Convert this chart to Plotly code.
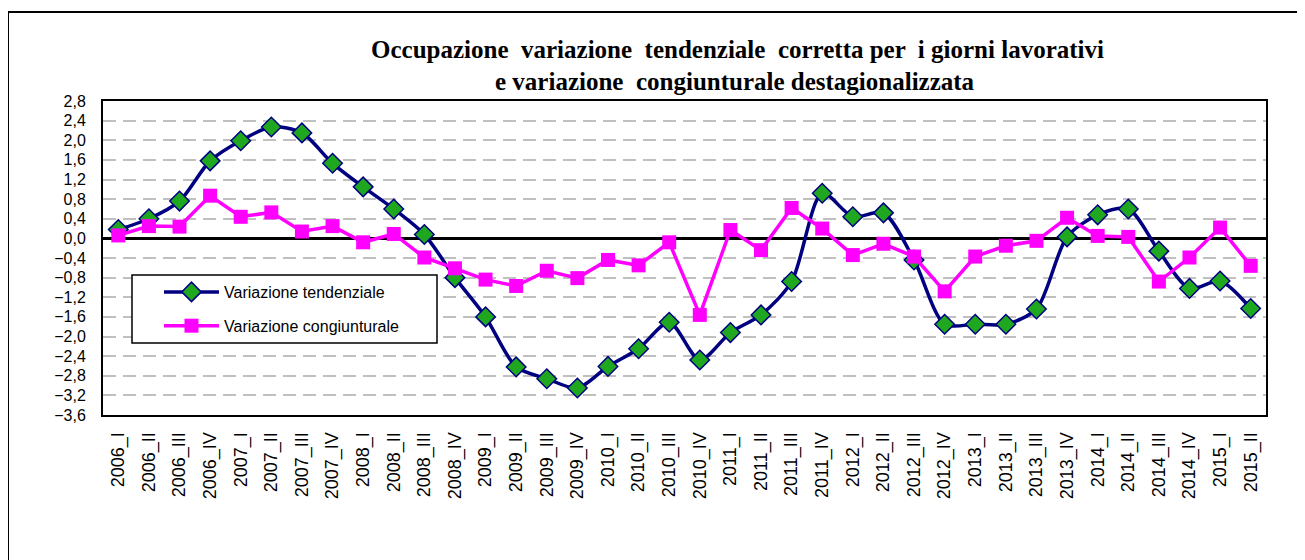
import plotly.graph_objects as go

# quarters 2006_I .. 2015_II
quarters = [
    "2006_I", "2006_II", "2006_III", "2006_IV",
    "2007_I", "2007_II", "2007_III", "2007_IV",
    "2008_I", "2008_II", "2008_III", "2008_IV",
    "2009_I", "2009_II", "2009_III", "2009_IV",
    "2010_I", "2010_II", "2010_III", "2010_IV",
    "2011_I", "2011_II", "2011_III", "2011_IV",
    "2012_I", "2012_II", "2012_III", "2012_IV",
    "2013_I", "2013_II", "2013_III", "2013_IV",
    "2014_I", "2014_II", "2014_III", "2014_IV",
    "2015_I", "2015_II",
]

tendenziale = [
    0.18, 0.40, 0.76, 1.58, 1.99, 2.27, 2.15, 1.53,
    1.05, 0.60, 0.08, -0.80, -1.60, -2.62, -2.86, -3.05,
    -2.61, -2.25, -1.71, -2.48, -1.92, -1.56, -0.88, 0.92,
    0.44, 0.52, -0.44, -1.75, -1.75, -1.75, -1.44, 0.03,
    0.48, 0.60, -0.26, -1.02, -0.87, -1.43,
]

congiunturale = [
    0.06, 0.25, 0.24, 0.87, 0.44, 0.53, 0.14, 0.25,
    -0.08, 0.09, -0.39, -0.61, -0.84, -0.97, -0.66, -0.81,
    -0.44, -0.55, -0.08, -1.56, 0.17, -0.24, 0.62, 0.20,
    -0.34, -0.11, -0.37, -1.08, -0.37, -0.15, -0.05, 0.42,
    0.05, 0.03, -0.88, -0.39, 0.22, -0.56,
]

y_ticks = [round(-3.6 + 0.4 * i, 1) for i in range(17)]

title_line1 = "<b>Occupazione  variazione  tendenziale  corretta per  i giorni lavorativi</b>"
title_line2 = "<b>e variazione  congiunturale destagionalizzata</b>"

fig = go.Figure()

fig.add_trace(go.Scatter(
    x=quarters, y=tendenziale, name="Variazione tendenziale",
    mode="lines+markers", legendgroup="a",
    line=dict(color="#000080", width=3.5, shape="spline", smoothing=0.8),
    marker=dict(symbol="diamond", size=15, color="#1fa81f",
                line=dict(color="#000080", width=1.5)),
))

fig.add_trace(go.Scatter(
    x=quarters, y=congiunturale, name="Variazione congiunturale",
    mode="lines+markers", legendgroup="b",
    line=dict(color="#ff00ff", width=3.5),
    marker=dict(symbol="square", size=14, color="#ff00ff"),
))

# page body has an 8px margin, so screen positions are offset by 8
OFF = 8
W, H = 1305, 560
L, T = 103 - OFF, 101 - OFF
R = W - (1266 - OFF)
B = H - (415 - OFF)
pw, ph = W - L - R, H - T - B


def px_x(x):
    return (x - OFF - L) / pw


def px_y(y):
    return (H - B - (y - OFF)) / ph


fig.add_annotation(text=title_line1, x=px_x(737), y=px_y(50), xref="paper", yref="paper",
                   showarrow=False, xanchor="center", yanchor="middle",
                   font=dict(family="Liberation Serif", size=25, color="black"))
fig.add_annotation(text=title_line2, x=px_x(735), y=px_y(82), xref="paper", yref="paper",
                   showarrow=False, xanchor="center", yanchor="middle",
                   font=dict(family="Liberation Serif", size=25, color="black"))

# outer frame of the chart, running off the right and bottom edges
fig.add_shape(type="rect", xref="paper", yref="paper",
              x0=px_x(8), y0=px_y(12), x1=px_x(1330), y1=px_y(590),
              line=dict(color="black", width=2), layer="below")

# legend box (wider than plotly's own legend frame)
fig.add_shape(type="rect", xref="paper", yref="paper",
              x0=px_x(132), y0=px_y(275), x1=px_x(437), y1=px_y(343),
              line=dict(color="black", width=1.5), fillcolor="white", layer="above")

fig.update_layout(
    width=W, height=H,
    margin=dict(l=L, r=R, t=T, b=B),
    paper_bgcolor="white", plot_bgcolor="white",
    separators=",.",
    font=dict(family="Arial, Liberation Sans", size=16, color="black"),
    legend=dict(
        x=px_x(159), y=px_y(275), xanchor="left", yanchor="top",
        bgcolor="rgba(0,0,0,0)", borderwidth=0,
        font=dict(family="Arial, Liberation Sans", size=16),
        traceorder="grouped", tracegroupgap=10,
        itemwidth=55,
    ),
)

fig.update_xaxes(
    type="category", range=[-0.5, len(quarters) - 0.5],
    tickangle=-90, showgrid=False,
    showline=True, linecolor="black", linewidth=2, mirror=True,
    ticks="", ticklabelstandoff=8,
    tickfont=dict(family="Arial, Liberation Sans", size=18),
)

fig.update_yaxes(
    range=[-3.6, 2.8], tickvals=y_ticks, tickformat=".1f",
    showgrid=True, gridcolor="#c0c0c0", gridwidth=2, griddash="13px,7px",
    zeroline=True, zerolinecolor="black", zerolinewidth=2.5,
    showline=True, linecolor="black", linewidth=2, mirror=True,
    ticks="", ticklabelstandoff=12,
    tickfont=dict(family="Arial, Liberation Sans", size=16),
)

fig.write_html("out.html")
